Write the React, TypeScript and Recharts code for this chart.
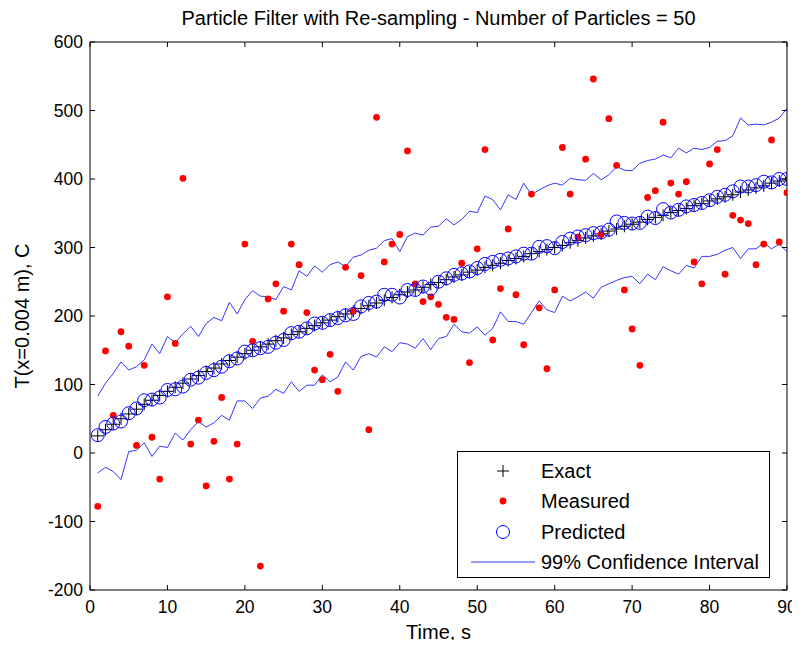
import React from 'react'
import {ComposedChart, Line, XAxis, YAxis, Legend, Label} from 'recharts'

const time = Array.from({length: 90}, (_, i) => i + 1)

const exact = [
  25, 34, 42, 50, 57, 64, 71, 77, 84, 90, 96, 102, 108, 113, 119, 124, 130, 135, 140, 145,
  150, 155, 159, 164, 168, 173, 177, 182, 186, 190, 194, 199, 203, 207, 211, 215, 219, 223, 227, 231,
  235, 238, 242, 246, 249, 253, 257, 260, 264, 267, 271, 274, 277, 281, 284, 287, 291, 294, 297, 300,
  303, 307, 310, 314, 317, 320, 324, 327, 331, 334, 337, 341, 344, 347, 351, 354, 357, 361, 364, 368,
  371, 374, 377, 381, 384, 387, 390, 394, 397, 400,
]

const measured = [
  -78, 149, 55, 177, 156, 11, 128, 23, -38, 228, 160, 401, 13, 48, -48, 17, 81, -38, 13, 305,
  163, -165, 225, 247, 207, 305, 275, 205, 121, 107, 144, 90, 271, 207, 259, 34, 490, 279, 305, 319,
  441, 247, 221, 228, 217, 198, 195, 277, 132, 298, 443, 165, 240, 327, 231, 158, 378, 212, 123, 238,
  446, 378, 315, 429, 546, 319, 488, 420, 238, 181, 128, 373, 383, 483, 394, 378, 396, 279, 247, 422,
  443, 261, 347, 340, 335, 275, 305, 457, 308, 380,
]

const predicted = [
  26, 38, 43, 46, 58, 65, 77, 78, 81, 92, 93, 97, 107, 110, 117, 121, 126, 134, 138, 148,
  150, 153, 155, 161, 165, 175, 177, 182, 189, 190, 194, 197, 201, 203, 214, 219, 221, 231, 231, 227,
  238, 238, 243, 240, 250, 255, 260, 262, 265, 270, 276, 279, 282, 284, 287, 291, 291, 301, 302, 299,
  308, 313, 316, 318, 321, 322, 326, 338, 336, 335, 336, 345, 343, 356, 351, 355, 360, 362, 365, 369,
  374, 377, 382, 389, 389, 391, 396, 395, 400, 400,
]

const upper = [
  83, 102, 116, 133, 121, 126, 136, 159, 145, 170, 161, 174, 185, 170, 189, 198, 193, 220, 203, 224,
  237, 229, 228, 224, 243, 238, 266, 258, 273, 264, 275, 279, 272, 286, 289, 296, 299, 310, 313, 294,
  316, 321, 318, 330, 331, 342, 333, 341, 353, 351, 375, 370, 355, 377, 370, 394, 377, 384, 390, 394,
  391, 401, 399, 398, 408, 399, 406, 418, 413, 412, 423, 427, 429, 435, 431, 445, 438, 445, 443, 446,
  455, 456, 463, 489, 479, 480, 479, 483, 489, 503,
]

const lower = [
  -29, -21, -27, -39, 2, 4, 15, -5, 10, 8, 29, 19, 34, 46, 38, 44, 55, 48, 76, 76,
  65, 80, 83, 93, 87, 104, 90, 99, 99, 114, 104, 111, 133, 121, 141, 145, 140, 155, 148, 161,
  159, 153, 167, 151, 167, 170, 188, 177, 175, 184, 172, 182, 206, 192, 192, 188, 205, 222, 209, 205,
  229, 222, 228, 235, 226, 242, 247, 252, 256, 258, 247, 261, 253, 272, 266, 261, 274, 270, 287, 287,
  290, 296, 300, 284, 298, 298, 307, 298, 305, 294,
]

const xTicks = [0, 10, 20, 30, 40, 50, 60, 70, 80, 90]
const yTicks = [-200, -100, 0, 100, 200, 300, 400, 500, 600]
const legendNames = ['Exact', 'Measured', 'Predicted', '99% Confidence Interval']

const data = time.map((t, i) => ({
  t,
  exact: exact[i],
  measured: measured[i],
  predicted: predicted[i],
  upper: upper[i],
  lower: lower[i],
}))

// svg is a bit bigger than its box so the last tick label and the x label are not clipped
const W = 792
const H = 640
const LEFT = 82
const RIGHT = 779
const TOP = 34
const BOTTOM = 582
const TICK = 5
const FONT = 'Liberation Sans, Arial, sans-serif'
const CI_COLOR = '#3535ff'

const BottomTick = (p: any) => (
  <g>
    <line x1={p.x} x2={p.x} y1={BOTTOM} y2={BOTTOM - TICK} stroke="#000" />
    <text x={p.x} y={BOTTOM + 23} textAnchor="middle" fontSize={17.5} fontFamily={FONT} fill="#000">
      {p.payload.value}
    </text>
  </g>
)

const LeftTick = (p: any) => (
  <g>
    <line x1={LEFT} x2={LEFT + TICK} y1={p.y} y2={p.y} stroke="#000" />
    <text x={LEFT - 7} y={p.y + 6} textAnchor="end" fontSize={17.5} fontFamily={FONT} fill="#000">
      {p.payload.value}
    </text>
  </g>
)

const TopTick = (p: any) => <line x1={p.x} x2={p.x} y1={TOP} y2={TOP + TICK} stroke="#000" />
const RightTick = (p: any) => <line x1={RIGHT} x2={RIGHT - TICK} y1={p.y} y2={p.y} stroke="#000" />

const plusDot = (p: any) =>
  p.cx == null || p.cy == null ? (
    <g key={p.index} />
  ) : (
    <g key={p.index}>
      <line x1={p.cx - 6} x2={p.cx + 6} y1={p.cy} y2={p.cy} stroke="#000" strokeWidth={1} />
      <line x1={p.cx} x2={p.cx} y1={p.cy - 6} y2={p.cy + 6} stroke="#000" strokeWidth={1} />
    </g>
  )

const redDot = (p: any) =>
  p.cx == null || p.cy == null ? <g key={p.index} /> : <circle key={p.index} cx={p.cx} cy={p.cy} r={3.4} fill="#ff0000" />

const ringDot = (p: any) =>
  p.cx == null || p.cy == null ? (
    <g key={p.index} />
  ) : (
    <circle key={p.index} cx={p.cx} cy={p.cy} r={6.5} fill="none" stroke="#0000ff" strokeWidth={1} />
  )

// legend box in the lower right, like matlab's 'Location','SouthEast'
const LegendBox = () => {
  const rowY = [19, 49, 80, 110]
  return (
    <div style={{width: 313, height: 127, border: '1px solid #000', background: '#fff', boxSizing: 'border-box'}}>
      <svg width={311} height={125} style={{display: 'block'}}>
        {legendNames.map((name, i) => {
          const y = rowY[i]
          return (
            <g key={name}>
              {i === 0 && (
                <g>
                  <line x1={39} x2={51} y1={y} y2={y} stroke="#000" />
                  <line x1={45} x2={45} y1={y - 6} y2={y + 6} stroke="#000" />
                </g>
              )}
              {i === 1 && <circle cx={45} cy={y} r={3.4} fill="#ff0000" />}
              {i === 2 && <circle cx={45} cy={y} r={6.5} fill="none" stroke="#0000ff" />}
              {i === 3 && <line x1={13} x2={77} y1={y} y2={y} stroke={CI_COLOR} />}
              <text x={83} y={y + 7} fontSize={20} fontFamily={FONT} fill="#000">
                {name}
              </text>
            </g>
          )
        })}
      </svg>
    </div>
  )
}

export default function App() {
  return (
    <div style={{width: 784, height: 632, overflow: 'visible', fontFamily: FONT}}>
      <ComposedChart width={W} height={H} data={data} margin={{top: TOP - 1, right: W - RIGHT - 1, bottom: 0, left: 0}}>
        <XAxis
          dataKey="t"
          type="number"
          domain={[0, 90]}
          ticks={xTicks}
          allowDataOverflow
          height={H - BOTTOM}
          tickLine={false}
          axisLine={{stroke: '#000'}}
          tick={BottomTick}
          interval={0}
        >
          <Label
            content={() => (
              <text x={(LEFT + RIGHT) / 2} y={BOTTOM + 49} textAnchor="middle" fontSize={20} fontFamily={FONT} fill="#000">
                Time, s
              </text>
            )}
          />
        </XAxis>
        <XAxis
          xAxisId="top"
          orientation="top"
          dataKey="t"
          type="number"
          domain={[0, 90]}
          ticks={xTicks}
          allowDataOverflow
          height={1}
          tickLine={false}
          axisLine={{stroke: '#000'}}
          tick={TopTick}
          interval={0}
        >
          <Label
            content={() => (
              <text x={(LEFT + RIGHT) / 2} y={TOP - 17} textAnchor="middle" fontSize={20} fontFamily={FONT} fill="#000">
                Particle Filter with Re-sampling - Number of Particles = 50
              </text>
            )}
          />
        </XAxis>
        <YAxis
          type="number"
          domain={[-200, 600]}
          ticks={yTicks}
          allowDataOverflow
          width={LEFT}
          tickLine={false}
          axisLine={{stroke: '#000'}}
          tick={LeftTick}
          interval={0}
        >
          <Label
            content={() => (
              <text
                x={21}
                y={(TOP + BOTTOM) / 2}
                transform={`rotate(-90 21 ${(TOP + BOTTOM) / 2})`}
                textAnchor="middle"
                fontSize={20}
                fontFamily={FONT}
                fill="#000"
              >
                T(x=0.004 m), C
              </text>
            )}
          />
        </YAxis>
        <YAxis
          yAxisId="right"
          orientation="right"
          type="number"
          domain={[-200, 600]}
          ticks={yTicks}
          allowDataOverflow
          width={1}
          tickLine={false}
          axisLine={{stroke: '#000'}}
          tick={RightTick}
          interval={0}
        />
        <Line dataKey="exact" stroke="none" dot={plusDot} activeDot={false} isAnimationActive={false} legendType="none" />
        <Line dataKey="measured" stroke="none" dot={redDot} activeDot={false} isAnimationActive={false} legendType="none" />
        <Line dataKey="predicted" stroke="none" dot={ringDot} activeDot={false} isAnimationActive={false} legendType="none" />
        {/* upper bound is tied to the top/right axes (same domains) so the box gets drawn */}
        <Line
          dataKey="upper"
          xAxisId="top"
          yAxisId="right"
          stroke={CI_COLOR}
          strokeWidth={1}
          dot={false}
          activeDot={false}
          isAnimationActive={false}
          legendType="none"
        />
        <Line dataKey="lower" stroke={CI_COLOR} strokeWidth={1} dot={false} activeDot={false} isAnimationActive={false} legendType="none" />
        <Legend
          layout="vertical"
          align="center"
          verticalAlign="middle"
          content={LegendBox}
          wrapperStyle={{position: 'absolute', left: 449, top: 443, width: 313, height: 127}}
        />
      </ComposedChart>
    </div>
  )
}
